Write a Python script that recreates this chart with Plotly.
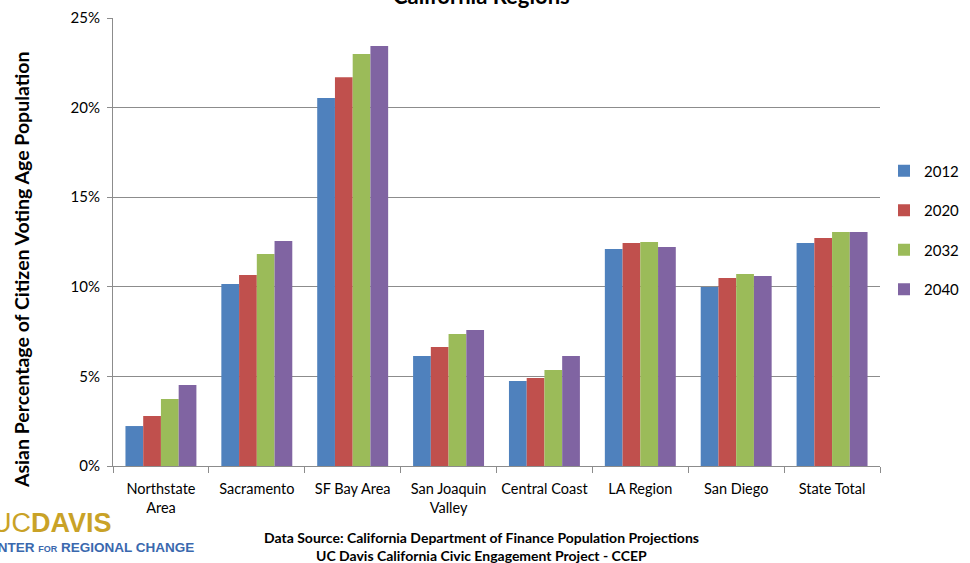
import plotly.graph_objects as go

regions = ["Northstate<br>Area", "Sacramento", "SF Bay Area", "San Joaquin<br>Valley",
           "Central Coast", "LA Region", "San Diego", "State Total"]
years = ["2012", "2020", "2032", "2040"]
colors = ["#4F81BD", "#C0504D", "#9BBB59", "#8064A2"]

share_2012 = [2.23, 10.16, 20.54, 6.14, 4.74, 12.11, 9.99, 12.44]
share_2020 = [2.79, 10.66, 21.70, 6.64, 4.91, 12.44, 10.49, 12.72]
share_2032 = [3.74, 11.83, 22.99, 7.37, 5.36, 12.50, 10.71, 13.06]
share_2040 = [4.52, 12.56, 23.44, 7.59, 6.14, 12.22, 10.60, 13.06]
series = [share_2012, share_2020, share_2032, share_2040]

y_ticks = [0, 5, 10, 15, 20, 25]
y_tick_text = [f"{v}%" for v in y_ticks]

W, H = 970, 563
L, R, T, B = 113, 90, 18, 97
PW, PH = W - L - R, H - T - B


def px(x):
    return (x - L) / PW


def py(y):
    return (H - B - y) / PH


FONT = "Lato, 'Open Sans', sans-serif"

fig = go.Figure()
for yr, vals, col in zip(years, series, colors):
    fig.add_trace(go.Bar(
        x=regions, y=vals, name=yr, legendgroup=yr,
        marker=dict(color=col, line=dict(width=0)),
    ))

fig.update_layout(
    width=W, height=H,
    margin=dict(l=L, r=R, t=T, b=B, autoexpand=False),
    paper_bgcolor="white", plot_bgcolor="white",
    barmode="group", bargap=0.26, bargroupgap=0,
    font=dict(family=FONT, size=15, color="#000"),
    showlegend=True,
    legend=dict(xref="container", yref="container",
                x=884 / W, y=1 - 230 / H, xanchor="left", yanchor="middle",
                traceorder="grouped", tracegroupgap=17,
                font=dict(size=15), itemwidth=30, bgcolor="rgba(0,0,0,0)"),
    xaxis=dict(
        showline=True, linecolor="#8c8c8c", linewidth=1,
        ticks="outside", tickson="boundaries", ticklen=6, tickcolor="#8c8c8c",
        tickfont=dict(size=14.5), tickangle=0, ticklabelstandoff=10,
        fixedrange=True, automargin=False,
    ),
    yaxis=dict(
        range=[0, 25], tickvals=y_ticks, ticktext=y_tick_text,
        showline=True, linecolor="#8c8c8c", linewidth=1,
        ticks="outside", ticklen=5, tickcolor="#8c8c8c", ticklabelstandoff=4,
        showgrid=True, gridcolor="#8c8c8c", gridwidth=1,
        zeroline=False, tickfont=dict(size=15), automargin=False,
    ),
)

annotations = [
    dict(text="<b>Asian Percentage of Citizen Voting Age Population</b>",
         x=px(21), y=py(270), xanchor="center", yanchor="middle",
         textangle=-90, font=dict(size=19.5)),
    dict(text="<b>California Regions</b>", x=px(481), y=py(11),
         xanchor="center", yanchor="bottom", font=dict(size=22)),
    dict(text="<b>Data Source: California Department of Finance Population Projections</b>",
         x=px(481), y=py(537), xanchor="center", yanchor="middle", font=dict(size=14)),
    dict(text="<b>UC Davis California Civic Engagement Project - CCEP</b>",
         x=px(481), y=py(555), xanchor="center", yanchor="middle", font=dict(size=14)),
    dict(text="UC<b>DAVIS</b>", x=px(-10), y=py(523), xanchor="left", yanchor="middle",
         font=dict(size=27, color="#C9A227", family="'Liberation Sans', Arial, sans-serif")),
    dict(text="<b>CENTER <span style='font-size:9px'>FOR</span> REGIONAL CHANGE</b>",
         x=px(-23), y=py(547), xanchor="left", yanchor="middle",
         font=dict(size=13.5, color="#3A68AE", family="'Liberation Sans', Arial, sans-serif")),
]
for a in annotations:
    a.update(xref="paper", yref="paper", showarrow=False)
fig.update_layout(annotations=annotations)

fig.write_html("out.html")
